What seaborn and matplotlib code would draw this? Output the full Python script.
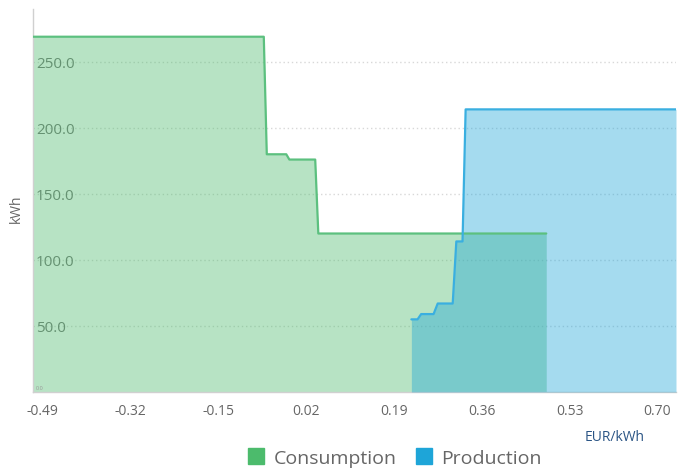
import matplotlib
matplotlib.use("Agg")
import matplotlib.pyplot as plt
from matplotlib.lines import Line2D
from matplotlib.ticker import MultipleLocator
import seaborn as sns

# price (EUR/kWh) vs energy (kWh) step curves
cons_price = [-0.508, -0.0615, -0.0557, -0.018, -0.012, 0.038, 0.044, 0.485]
cons_kwh = [269, 269, 180, 180, 176, 176, 120, 120]
prod_price = [0.224, 0.236, 0.243, 0.267, 0.275, 0.304, 0.311, 0.323, 0.329, 0.736]
prod_kwh = [55, 55, 59, 59, 67, 67, 114, 114, 214, 214]
x_ticks = [-0.49, -0.32, -0.15, 0.02, 0.19, 0.36, 0.53, 0.70]
y_ticks = [50, 100, 150, 200, 250]

green = "#4cbb6c"
blue = "#1ea5d8"

sns.set_style("white")
plt.rcParams["font.family"] = ["Open Sans", "DejaVu Sans"]

fig = plt.figure(figsize=(6.83, 4.77), dpi=100)
ax = fig.add_axes([33 / 683, 84 / 477, 643 / 683, 383 / 477])

ax.fill_between(cons_price, cons_kwh, 0, color=green, alpha=0.4, lw=0, zorder=2)
ax.fill_between(prod_price, prod_kwh, 0, color=blue, alpha=0.4, lw=0, zorder=3)
sns.lineplot(x=cons_price, y=cons_kwh, sort=False, estimator=None, color="#5cc07f", lw=1.6, ax=ax, zorder=4)
sns.lineplot(x=prod_price, y=prod_kwh, sort=False, estimator=None, color="#3aafe0", lw=1.6, ax=ax, zorder=5)

ax.set_xlim(-0.508, 0.736)
ax.set_ylim(0, 290)

ax.set_xticks(x_ticks)
ax.set_xticklabels([f"{v:.2f}" for v in x_ticks])
ax.xaxis.set_minor_locator(MultipleLocator(0.005))
ax.tick_params(axis="x", which="major", length=5, color="#cccccc", labelsize=10, labelcolor="#666666", pad=3)
ax.tick_params(axis="x", which="minor", length=4, color="#d5d5d5", width=0.8)

ax.set_yticks(y_ticks)
ax.set_yticklabels([f"{v:.1f}" for v in y_ticks])
ax.tick_params(axis="y", direction="in", length=3, color="#cccccc", labelsize=11, labelcolor="#777777", pad=-2)
for lab in ax.get_yticklabels():
    lab.set_horizontalalignment("left")
ax.text(-0.5035, 2, "0.0", fontsize=4, color="#999999", zorder=6)

ax.grid(axis="y", linestyle=(0, (1, 2)), color="#d8d8d8", lw=1, zorder=1)
ax.grid(axis="x", visible=False)
for side in ["top", "right"]:
    ax.spines[side].set_visible(False)
for side in ["left", "bottom"]:
    ax.spines[side].set_color("#d0d0d0")
    ax.spines[side].set_linewidth(1)

ax.set_ylabel("kWh", fontsize=10, color="#666666")
ax.yaxis.set_label_coords(-9 / 643, 0.48)
ax.set_xlabel("")
fig.text(615 / 683, 1 - 438 / 477, "EUR/kWh", fontsize=10, color="#2b5585", ha="center", va="center")

handles = [
    Line2D([], [], marker="s", ls="", markersize=12, color=green, label="Consumption"),
    Line2D([], [], marker="s", ls="", markersize=12, color=blue, label="Production"),
]
fig.legend(handles=handles, loc="center", bbox_to_anchor=(394 / 683, 1 - 459 / 477), ncol=2,
           frameon=False, fontsize=14, labelcolor="#666666", handletextpad=0.4, columnspacing=0.9,
           handlelength=1.0)

fig.savefig("out.png", dpi=100)
